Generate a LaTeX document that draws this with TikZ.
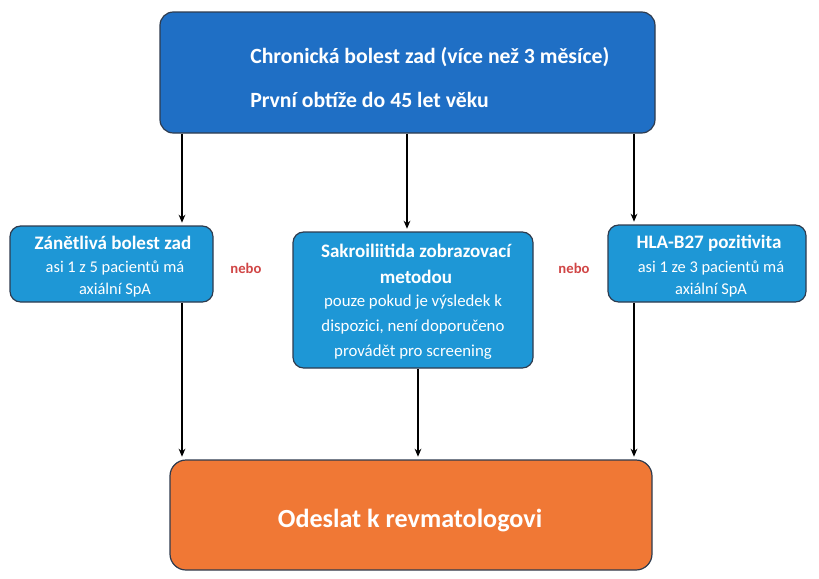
\documentclass[tikz,border=0pt]{standalone}
\usepackage{fontspec}
\setmainfont{Carlito}
\usetikzlibrary{arrows.meta,calc}
\definecolor{topblue}{HTML}{1F6FC5}
\definecolor{midblue}{HTML}{1E97D6}
\definecolor{orangebox}{HTML}{F07835}
\definecolor{edgedark}{HTML}{2E3B4E}
\definecolor{neboRed}{HTML}{D04545}
\tikzset{
  boxbase/.style={draw=edgedark, line width=0.9pt, rounded corners=10pt, inner sep=0pt},
  topbox/.style={boxbase, fill=topblue},
  midbox/.style={boxbase, fill=midblue, rounded corners=8pt},
  endbox/.style={boxbase, fill=orangebox, rounded corners=12pt},
  wtext/.style={text=white, inner sep=0pt, font=\fontsize{16.3}{18}\selectfont\bfseries},
  btitle/.style={text=white, align=center, inner sep=0pt, font=\fontsize{14.3}{20}\selectfont\bfseries},
  bsub/.style={text=white, align=center, inner sep=0pt, font=\fontsize{12.3}{16}\selectfont},
  msub/.style={bsub, font=\fontsize{12.6}{18.7}\selectfont},
  nebo/.style={text=neboRed, inner sep=0pt, font=\fontsize{11}{13}\selectfont\bfseries},
  arr/.style={-{Stealth[length=6pt,width=5pt]}, line width=1.4pt, black, shorten >=2pt}
}
\begin{document}
\begin{tikzpicture}[x=0.75pt,y=-0.75pt]
\useasboundingbox (0,0) rectangle (819,579);
% boxes
\node[topbox, minimum width=495*0.75pt, minimum height=121*0.75pt] (top) at (407.5,72.5) {};
\node[wtext, anchor=west] (t1) at (250,57) {Chronická bolest zad (více než 3 měsíce)};
\node[wtext, anchor=west] (t2) at (250,100) {První obtíže do 45 let věku};

\node[midbox, minimum width=203*0.75pt, minimum height=76*0.75pt] (left) at (111.5,264) {};
\node[btitle] (lt) at (113,243) {Zánětlivá bolest zad};
\node[bsub] (ls) at (115,279) {asi 1 z 5 pacientů má\\axiální SpA};

\node[midbox, minimum width=240*0.75pt, minimum height=136*0.75pt] (mid) at (413,300) {};
\node[btitle] (mt) at (416,264) {Sakroiliitida zobrazovací\\metodou};
\node[msub] (ms) at (413,327) {pouze pokud je výsledek k\\dispozici, není doporučeno\\provádět pro screening};

\node[midbox, minimum width=198*0.75pt, minimum height=77*0.75pt] (right) at (707,263.5) {};
\node[btitle] (rt) at (709,243) {HLA-B27 pozitivita};
\node[bsub] (rs) at (711,279) {asi 1 ze 3 pacientů má\\axiální SpA};

\node[endbox, minimum width=482*0.75pt, minimum height=110*0.75pt] (end) at (411,515) {};
\node[text=white, inner sep=0pt, font=\fontsize{19.6}{22}\selectfont\bfseries] (et) at (410,521) {Odeslat k revmatologovi};

\node[nebo] (n1) at (246,268) {nebo};
\node[nebo] (n2) at (574,268) {nebo};

% arrow columns
\coordinate (cA) at (182,0);
\coordinate (cB) at (407,0);
\coordinate (cC) at (634,0);
\coordinate (cD) at (418,0);

\draw[arr] (top.south -| cA) -- (left.north -| cA);
\draw[arr] (top.south -| cB) -- (mid.north -| cB);
\draw[arr] (top.south -| cC) -- (right.north -| cC);
\draw[arr] (left.south -| cA) -- (end.north -| cA);
\draw[arr] (mid.south -| cD) -- (end.north -| cD);
\draw[arr] (right.south -| cC) -- (end.north -| cC);
\end{tikzpicture}
\end{document}
